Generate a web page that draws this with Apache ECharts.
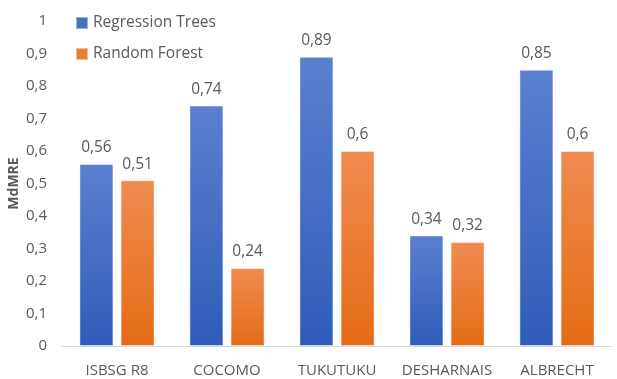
<!DOCTYPE html>
<html>
<head>
<meta charset="utf-8">
<script src="https://cdn.jsdelivr.net/npm/echarts@6/dist/echarts.min.js"></script>
<style>
  html, body { margin: 0; padding: 0; background: #fff; }
  #chart { width: 617px; height: 379px; }
</style>
</head>
<body>
<div id="chart"></div>
<script>
// Data sets and MdMRE values per model
const categories = ['ISBSG R8', 'COCOMO', 'TUKUTUKU', 'DESHARNAIS', 'ALBRECHT'];
const regressionTrees = [0.56, 0.74, 0.89, 0.34, 0.85];
const randomForest = [0.51, 0.24, 0.6, 0.32, 0.6];
const seriesNames = ['Regression Trees', 'Random Forest'];

const FONT = '"Open Sans", sans-serif';
const TEXT = '#595959';

const fmt = v => String(v).replace('.', ',');

function grad(top, bottom) {
  return new echarts.graphic.LinearGradient(0, 0, 0, 1, [
    { offset: 0, color: top },
    { offset: 1, color: bottom }
  ]);
}

const chart = echarts.init(document.getElementById('chart'));
chart.setOption({
  animation: false,
  textStyle: { fontFamily: FONT },
  grid: {
    left: 62, right: 5, top: 21, bottom: 33,
    containLabel: false,
    outerBoundsMode: 'none'
  },
  legend: {
    orient: 'vertical',
    left: 70,
    top: 10,
    itemWidth: 12,
    itemHeight: 12,
    itemGap: 15,
    icon: 'rect',
    textStyle: { fontFamily: FONT, fontSize: 15.5, color: TEXT, padding: [0, 0, 0, 0] },
    data: [
      { name: seriesNames[0], itemStyle: { color: '#4472c4' } },
      { name: seriesNames[1], itemStyle: { color: '#ed7d31' } }
    ]
  },
  xAxis: {
    type: 'category',
    data: categories,
    axisLine: { show: true, lineStyle: { color: '#d9d9d9', width: 1 } },
    axisTick: { show: false },
    axisLabel: { interval: 0, fontFamily: FONT, fontSize: 15, color: TEXT, margin: 17 }
  },
  yAxis: {
    type: 'value',
    min: 0,
    max: 1,
    interval: 0.1,
    name: 'MdMRE',
    nameLocation: 'middle',
    nameGap: 41,
    nameMoveOverlap: false,
    nameTextStyle: { fontFamily: FONT, fontSize: 14, fontWeight: 'bold', color: TEXT },
    axisLine: { show: false },
    axisTick: { show: false },
    splitLine: { show: false },
    axisLabel: {
      fontFamily: FONT, fontSize: 15, color: TEXT, margin: 15,
      formatter: v => fmt(Math.round(v * 10) / 10)
    }
  },
  series: [
    {
      name: seriesNames[0],
      type: 'bar',
      data: regressionTrees,
      barWidth: 34,
      barGap: '21%',
      itemStyle: {
        color: grad('#5b80d0', '#2e5cb8'),
        borderColor: 'rgba(255,255,255,0.45)',
        borderWidth: 1
      },
      label: {
        show: true, position: 'top', distance: 8,
        fontFamily: FONT, fontSize: 15.5, color: TEXT,
        formatter: p => fmt(p.value)
      }
    },
    {
      name: seriesNames[1],
      type: 'bar',
      data: randomForest,
      barWidth: 34,
      itemStyle: {
        color: grad('#f08c52', '#e46b15'),
        borderColor: 'rgba(255,255,255,0.45)',
        borderWidth: 1
      },
      label: {
        show: true, position: 'top', distance: 8,
        fontFamily: FONT, fontSize: 15.5, color: TEXT,
        formatter: p => fmt(p.value)
      }
    }
  ]
});
</script>
</body>
</html>
